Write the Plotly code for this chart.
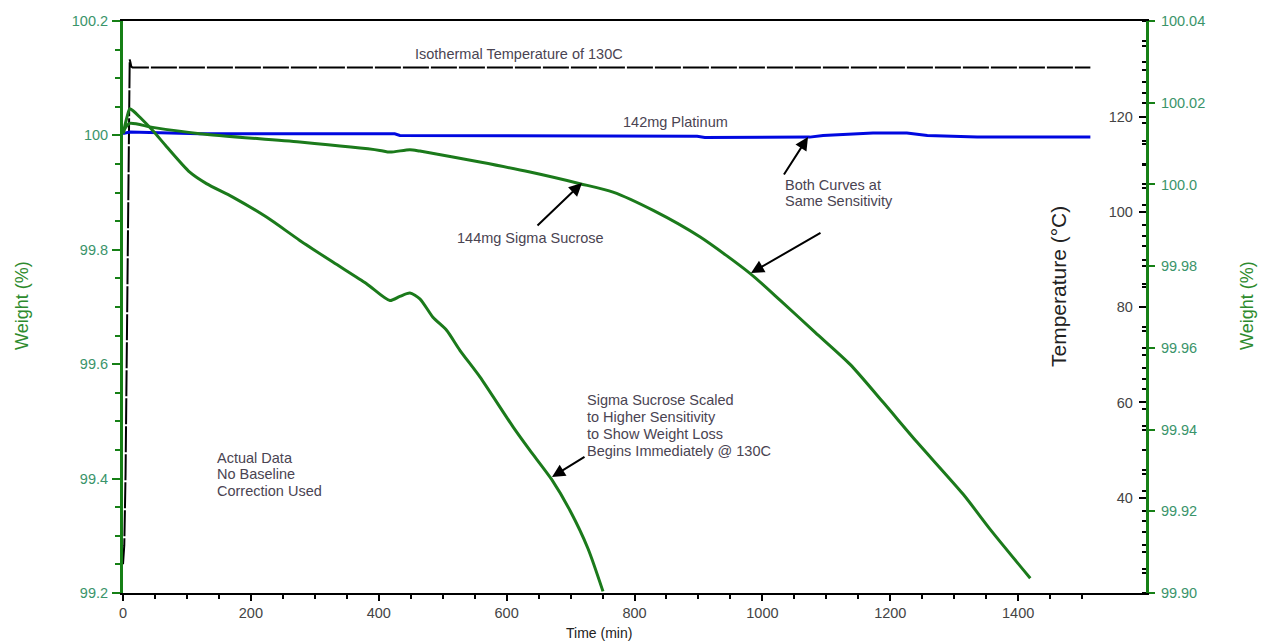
import plotly.graph_objects as go

# ---- data -------------------------------------------------------------
# 144 mg sucrose weight (%) on the normal weight scale (left axis)
sucrose_time = [0.3, 2.7, 10.5, 46.5, 120.0, 276.5, 401.7, 417.4, 448.7,
                464.3, 558.2, 636.5, 714.7, 766.4, 829.3, 902.8, 981.1,
                1028.0, 1082.5, 1137.2, 1188.9, 1242.1, 1314.1, 1356.3,
                1419.0]
sucrose_weight = [100.0035, 100.0118, 100.0210, 100.0140, 100.0030, 99.9883,
                  99.9738, 99.9708, 99.9750, 99.9726, 99.9534, 99.9359,
                  99.9156, 99.9009, 99.8689, 99.8223, 99.7583, 99.7116,
                  99.6557, 99.5997, 99.5333, 99.4634, 99.3725, 99.3113,
                  99.2257]

# the same sucrose run on the high-sensitivity scale (right axis)
sucrose_hs_time = [0.3, 5.8, 10.5, 15.2, 26.1, 46.5, 67.9, 104.4, 130.5,
                   171.7, 224.4, 276.5, 328.2, 380.9, 417.4, 433.0, 448.7,
                   464.3, 484.7, 506.1, 526.9, 558.2, 610.3, 636.5, 670.4,
                   699.1, 727.2, 750.7]
sucrose_hs_weight = [100.0125, 100.0162, 100.0185, 100.0181, 100.0165,
                     100.0132, 100.0093, 100.0030, 100.0002, 99.9969,
                     99.9920, 99.9863, 99.9810, 99.9757, 99.9716, 99.9726,
                     99.9734, 99.9720, 99.9675, 99.9643, 99.9594, 99.9529,
                     99.9406, 99.9349, 99.9278, 99.9202, 99.9109, 99.9004]

# 142 mg platinum reference weight (%)
platinum_time = [0, 10.5, 120, 425, 433, 600, 898, 910, 1074, 1095, 1173,
                 1226, 1258, 1336, 1513]
platinum_weight = [100.0034, 100.0058, 100.0030, 100.0027, 100.0000, 99.9990,
                   99.9983, 99.9965, 99.9970, 100.0000, 100.0040, 100.0040,
                   100.0000, 99.9971, 99.9971]

# furnace temperature (deg C)
temp_time = [0, 2, 4, 6, 8, 9.5, 10.5, 11.5, 13, 15, 1513]
temp_value = [26, 30, 45, 75, 104, 124, 132.1, 131.6, 130.6, 130.4, 130.4]

# axis ticks
x_ticks = [0, 200, 400, 600, 800, 1000, 1200, 1400, 1600]
temp_ticks = [40, 60, 80, 100, 120]
right_wt_ticks = [99.90, 99.92, 99.94, 99.96, 99.98, 100.0, 100.02, 100.04]
right_wt_labels = ["99.90", "99.92", "99.94", "99.96", "99.98", "100.0",
                   "100.02", "100.04"]

# ---- style ------------------------------------------------------------
FONT = "Arial, Liberation Sans, sans-serif"
GREEN = "#1b7a1b"
SPINE_GREEN = "#168016"
LABEL_GREEN = "#3a946a"
BLUE = "#0008e0"
NOTE = "#4a4452"
GREY = "#444444"
NOTE_SIZE = 14.5

W, H = 1261, 644
L, T, PW, PH = 123, 21, 1023, 572


def pos(px, py):
    """Pixel position on the page -> paper coordinates of the plot area."""
    return (px - L) / PW, (T + PH - py) / PH


fig = go.Figure()

fig.add_trace(go.Scatter(
    x=temp_time, y=temp_value, yaxis="y", mode="lines",
    line=dict(color="black", width=2, dash="26px,2px"), name="Temperature"))

fig.add_trace(go.Scatter(
    x=platinum_time, y=platinum_weight, yaxis="y2", mode="lines",
    line=dict(color=BLUE, width=3), name="142mg Platinum"))

fig.add_trace(go.Scatter(
    x=sucrose_time, y=sucrose_weight, yaxis="y2", mode="lines",
    line=dict(color=GREEN, width=3, shape="spline", smoothing=0.7),
    name="144mg Sigma Sucrose"))

fig.add_trace(go.Scatter(
    x=sucrose_hs_time, y=sucrose_hs_weight, yaxis="y3", mode="lines",
    line=dict(color=GREEN, width=3, shape="spline", smoothing=0.7),
    name="Sigma Sucrose (scaled)"))

tick_font = dict(family=FONT, size=14.5)

fig.update_layout(
    width=W, height=H,
    margin=dict(l=L, r=W - L - PW, t=T, b=H - T - PH),
    paper_bgcolor="white", plot_bgcolor="white",
    showlegend=False,
    font=dict(family=FONT, color=GREY),
    xaxis=dict(
        range=[0, 1600], tickvals=x_ticks, showgrid=False, zeroline=False,
        showline=True, linecolor="black", linewidth=2, mirror=True,
        ticks="outside", ticklen=6, tickwidth=2, tickcolor="black",
        minor=dict(tickmode="linear", tick0=0, dtick=50, ticks="outside",
                   ticklen=4, tickwidth=2, tickcolor="black"),
        tickfont=dict(tick_font, color=GREY), ticklabelstandoff=0),
    yaxis=dict(
        range=[19.95, 140.2], side="right", anchor="x",
        tickvals=temp_ticks, showgrid=False, zeroline=False, showline=False,
        ticks="inside", ticklen=7, tickwidth=2, tickcolor="black",
        ticklabelposition="inside",
        minor=dict(tickmode="linear", tick0=0, dtick=5, ticks="inside",
                   ticklen=4, tickwidth=2, tickcolor="black"),
        tickfont=dict(tick_font, color=GREY), ticklabelstandoff=6),
    yaxis2=dict(
        range=[99.2, 100.2], overlaying="y", side="left", anchor="x",
        tick0=99.2, dtick=0.2, showgrid=False, zeroline=False,
        showline=True, linecolor=SPINE_GREEN, linewidth=3,
        ticks="outside", ticklen=8, tickwidth=2, tickcolor=SPINE_GREEN,
        minor=dict(tickmode="linear", tick0=99.2, dtick=0.05,
                   ticks="outside", ticklen=5, tickwidth=2,
                   tickcolor=SPINE_GREEN),
        tickfont=dict(tick_font, color=LABEL_GREEN), ticklabelstandoff=1),
    yaxis3=dict(
        range=[99.90, 100.04], overlaying="y", side="right", anchor="x",
        tickvals=right_wt_ticks, ticktext=right_wt_labels,
        showgrid=False, zeroline=False,
        showline=True, linecolor=SPINE_GREEN, linewidth=3,
        ticks="outside", ticklen=6, tickwidth=2, tickcolor=SPINE_GREEN,
        minor=dict(tickmode="linear", tick0=99.9, dtick=0.005,
                   ticks="inside", ticklen=4, tickwidth=2,
                   tickcolor="black"),
        tickfont=dict(tick_font, color=LABEL_GREEN), ticklabelstandoff=3),
)

annotations = []


def note(lines, px, first_y, step=16.7, xanchor="center"):
    """Text block drawn line by line so the line pitch can be set."""
    for i, line in enumerate(lines):
        x, y = pos(px, first_y + i * step)
        annotations.append(dict(
            text=line, x=x, y=y, xref="paper", yref="paper",
            showarrow=False, xanchor=xanchor, yanchor="middle",
            font=dict(family=FONT, size=NOTE_SIZE, color=NOTE)))


def arrow(tip, tail):
    x, y = pos(*tip)
    annotations.append(dict(
        text="", x=x, y=y, xref="paper", yref="paper", showarrow=True,
        ax=tail[0] - tip[0], ay=tail[1] - tip[1],
        arrowhead=2, arrowsize=1.3, arrowwidth=2, arrowcolor="black",
        standoff=0))


note(["Isothermal Temperature of 130C"], 519, 54)
note(["142mg Platinum"], 675, 122)
note(["Both Curves at", "Same Sensitivity"], 783, 185, 16, "left")
note(["144mg Sigma Sucrose"], 530, 238)
note(["Sigma Sucrose Scaled", "to Higher Sensitivity", "to Show Weight Loss",
      "Begins Immediately @ 130C"], 585, 400, 16.9, "left")
note(["Actual Data", "No Baseline", "Correction Used"], 215, 457.5, 16.7,
     "left")

arrow((808, 137), (783, 176))
arrow((751, 273), (822, 232))
arrow((582, 183), (536, 227))
arrow((552, 477), (586, 456))

# axis titles
for text, px, py, size, color, angle in [
    ("Time (min)", 599, 633, 14, "#222222", 0),
    ("Weight (%)", 22, 306, 18, "#2e8b2e", -90),
    ("Temperature (°C)", 1058, 287, 21, "#222222", -90),
    ("Weight (%)", 1247, 306, 18, "#2e8b2e", -90),
]:
    x, y = pos(px, py)
    annotations.append(dict(
        text=text, x=x, y=y, xref="paper", yref="paper", showarrow=False,
        xanchor="center", yanchor="middle", textangle=angle,
        font=dict(family=FONT, size=size, color=color)))

fig.update_layout(annotations=annotations)

fig.write_html("out.html")
